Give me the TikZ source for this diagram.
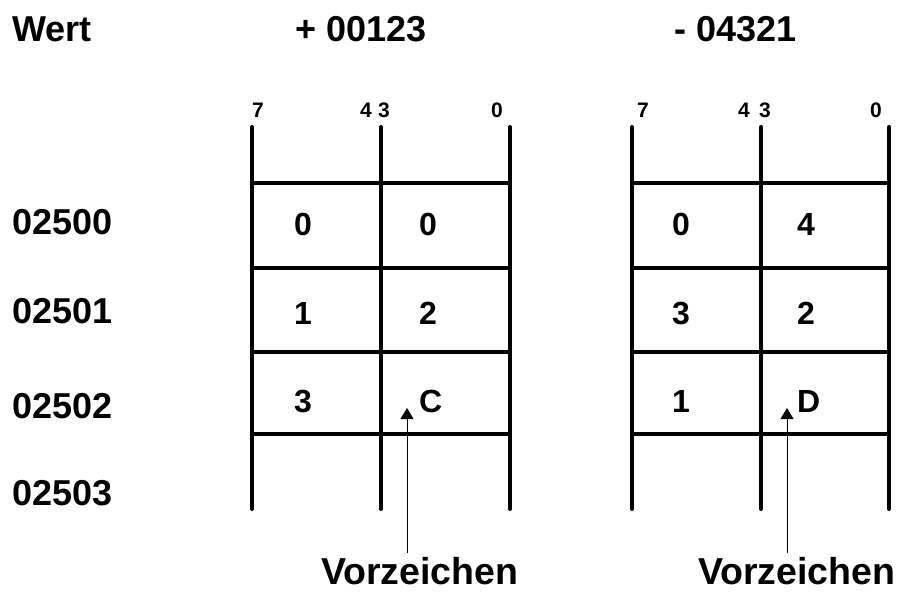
\documentclass[tikz,border=0pt]{standalone}
\usepackage{fontspec}
\setmainfont{Liberation Sans}
\usetikzlibrary{arrows.meta}
\begin{document}
\begin{tikzpicture}[x=1bp,y=-1bp,
  big/.style={font=\bfseries\fontsize{36bp}{40bp}\selectfont,inner sep=0pt},
  sign/.style={font=\bfseries\fontsize{37.5bp}{42bp}\selectfont,inner sep=0pt},
  cell/.style={font=\bfseries\fontsize{32bp}{36bp}\selectfont,inner sep=0pt},
  bit/.style={font=\bfseries\fontsize{21bp}{24bp}\selectfont,inner sep=0pt},
  rail/.style={line width=4bp,line cap=round},
  rung/.style={line width=3.5bp},
  pointer/.style={line width=1bp,-{Triangle[width=13bp,length=11bp]}}]
\useasboundingbox (0,0) rectangle (901,592);
% header
\node[big,anchor=base west] (wert) at (12,42) {Wert};
\node[big,anchor=base west] (vp) at (295,42) {+ 00123};
\node[big,anchor=base west] (vn) at (674,42) {- 04321};
% addresses
\node[big,anchor=base west] (r0) at (12,235) {02500};
\node[big,anchor=base west] (r1) at (12,323) {02501};
\node[big,anchor=base west] (r2) at (12,418) {02502};
\node[big,anchor=base west] (r3) at (12,505) {02503};
% registers
\foreach \reg/\xa/\xb/\xc in {L/252/381/510, R/632/761/889}{
  \foreach \c/\x in {a/\xa,b/\xb,c/\xc}{
    \coordinate (\reg\c t) at (\x,127);
    \coordinate (\reg\c b) at (\x,509);
    \draw[rail] (\reg\c t) -- (\reg\c b);
  }
  \foreach \i/\y in {1/183,2/268,3/352,4/434}{
    \coordinate (\reg h\i l) at (\xa,\y);
    \coordinate (\reg h\i r) at (\xc,\y);
    \draw[rung] (\reg h\i l) -- (\reg h\i r);
  }
}
% bit labels
\node[bit,anchor=base west] (L7) at (252,118) {7};
\node[bit,anchor=base east] (L4) at (372,118) {4};
\node[bit,anchor=base west] (L3) at (378,118) {3};
\node[bit,anchor=base east] (L0) at (503,118) {0};
\node[bit,anchor=base west] (R7) at (637,118) {7};
\node[bit,anchor=base east] (R4) at (750,118) {4};
\node[bit,anchor=base west] (R3) at (759,118) {3};
\node[bit,anchor=base east] (R0) at (882,118) {0};
% cell contents
\node[cell,anchor=base] (L1a) at (303,236) {0};
\node[cell,anchor=base west] (L1b) at (419,236) {0};
\node[cell,anchor=base] (L2a) at (303,324) {1};
\node[cell,anchor=base west] (L2b) at (419,324) {2};
\node[cell,anchor=base] (L3a) at (303,412) {3};
\node[cell,anchor=base west] (L3b) at (419,412) {C};
\node[cell,anchor=base] (R1a) at (681,236) {0};
\node[cell,anchor=base west] (R1b) at (797,236) {4};
\node[cell,anchor=base] (R2a) at (681,324) {3};
\node[cell,anchor=base west] (R2b) at (797,324) {2};
\node[cell,anchor=base] (R3a) at (681,412) {1};
\node[cell,anchor=base west] (R3b) at (797,412) {D};
% sign labels and pointers
\node[sign,anchor=base west] (vzL) at (321,584) {Vorzeichen};
\node[sign,anchor=base west] (vzR) at (698,584) {Vorzeichen};
\coordinate (pLs) at (407,553);
\coordinate (pLe) at (407,408);
\coordinate (pRs) at (787,553);
\coordinate (pRe) at (787,408);
\draw[pointer] (pLs) -- (pLe);
\draw[pointer] (pRs) -- (pRe);
\end{tikzpicture}
\end{document}
